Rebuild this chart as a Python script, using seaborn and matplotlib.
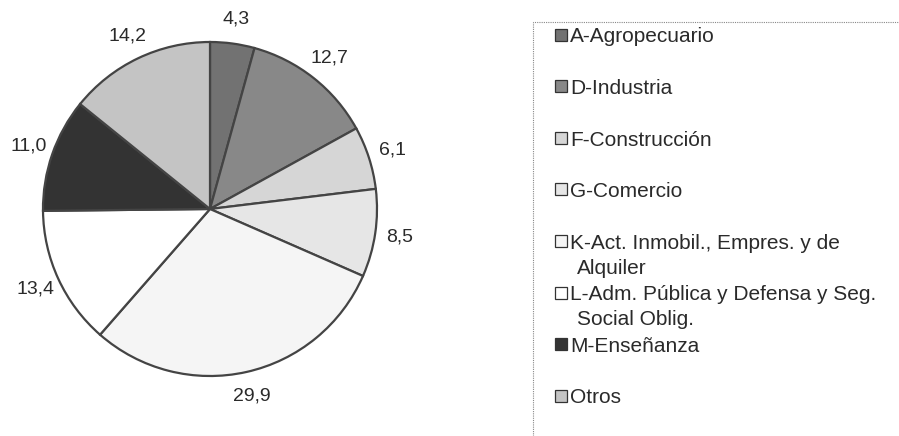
import seaborn as sns
import matplotlib.pyplot as plt
from matplotlib.patches import Rectangle

#   data
sectores = ['A-Agropecuario', 'D-Industria', 'F-Construcción', 'G-Comercio',
            'K-Act. Inmobil., Empres. y de\nAlquiler',
            'L-Adm. Pública y Defensa y Seg.\nSocial Oblig.',
            'M-Enseñanza', 'Otros']
porcentajes = [4.3, 12.7, 6.1, 8.5, 29.9, 13.4, 11.0, 14.2]
etiquetas = ['4,3', '12,7', '6,1', '8,5', '29,9', '13,4', '11,0', '14,2']
grises = ['#727272', '#888888', '#d6d6d6', '#e6e6e6', '#f5f5f5', '#ffffff', '#333333', '#c4c4c4']

sns.set_theme(style='white')
plt.rcParams['font.family'] = ['Liberation Sans', 'DejaVu Sans']

W, H = 899, 436
fig = plt.figure(figsize=(W / 100, H / 100), dpi=100)
ax = fig.add_axes([43 / W, 60 / H, 334 / W, 334 / H])

wedges, textos = ax.pie(porcentajes, labels=etiquetas, colors=grises, startangle=90,
                        counterclock=False, labeldistance=1.15,
                        wedgeprops=dict(edgecolor='#444444', linewidth=1.6),
                        textprops=dict(fontsize=14, color='#2a2a2a'))
for t in textos:
    t.set_ha('center')
    t.set_va('center')
ax.set_xlim(-1.0, 1.0)
ax.set_ylim(-1.0, 1.0)

#   legend frame (dotted, runs off the figure)
fig.patches.append(Rectangle((533 / W, -0.1), 0.6, 1.1 - 22 / H, transform=fig.transFigure,
                             fill=False, linestyle=(0, (1, 1)), edgecolor='#888888', linewidth=0.8))

#   legend entries: each one gets a two-line slot like the original
slot = 51.5
pitch = 25
for i, (sector, color) in enumerate(zip(sectores, grises)):
    base = 42.5 + i * slot
    fig.patches.append(Rectangle((555 / W, 1 - (base - 1.5) / H), 12 / W, 12 / H,
                                 transform=fig.transFigure, facecolor=color,
                                 edgecolor='#333333', linewidth=0.9))
    for j, linea in enumerate(sector.split('\n')):
        x = 570 if j == 0 else 577
        fig.text(x / W, 1 - (base + j * pitch) / H, linea, fontsize=15, color='#2a2a2a',
                 ha='left', va='baseline')

fig.savefig('out.png', dpi=100)
